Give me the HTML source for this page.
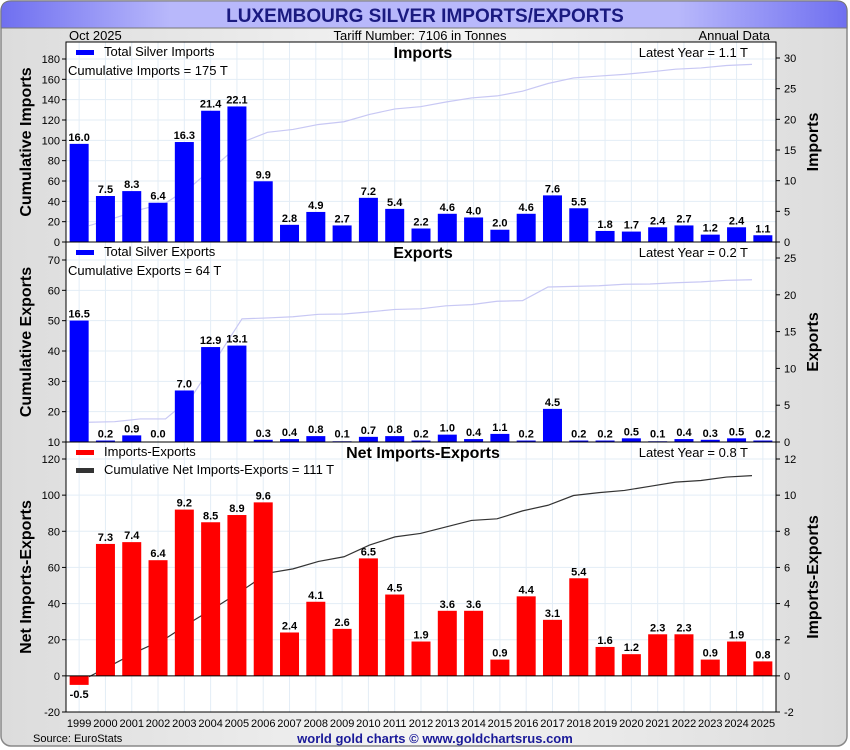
<!DOCTYPE html>
<html><head><meta charset="utf-8"><style>
body{margin:0;background:#fff;}
svg{display:block;font-family:"Liberation Sans",sans-serif;}
</style></head><body>
<svg id="chart" width="850" height="750">
<defs>
<linearGradient id="tg" x1="0" x2="1" y1="0" y2="0"><stop offset="0" stop-color="#6f6ff0"/><stop offset="0.2" stop-color="#b8b8fb"/><stop offset="0.8" stop-color="#b8b8fb"/><stop offset="1" stop-color="#6f6ff0"/></linearGradient>
<linearGradient id="bg" x1="0" x2="1"><stop offset="0" stop-color="#dcdcdc"/><stop offset="0.5" stop-color="#f4f4f4"/><stop offset="1" stop-color="#dcdcdc"/></linearGradient>
</defs>
<rect x="1" y="1" width="846" height="745" rx="10" fill="url(#bg)" stroke="#888" stroke-width="1.5"/>
<path d="M1 28 V11 Q1 1 11 1 H837 Q847 1 847 11 V28 Z" fill="url(#tg)" stroke="#777"/>
<text x="425" y="22" text-anchor="middle" font-size="19" font-weight="bold" fill="#1a1a80">LUXEMBOURG SILVER IMPORTS/EXPORTS</text>
<text x="69" y="40" font-size="13">Oct  2025</text>
<text x="420" y="40" font-size="13" text-anchor="middle">Tariff Number: 7106 in Tonnes</text>
<text x="770" y="40" font-size="13" text-anchor="end">Annual Data</text>
<text x="33" y="742" font-size="11">Source: EuroStats</text>
<text x="435" y="743" font-size="13" font-weight="bold" fill="#1a1a99" text-anchor="middle">world gold charts © www.goldchartsrus.com</text>
<g id="plots"></g>
</svg>
<script>
const years=["1999","2000","2001","2002","2003","2004","2005","2006","2007","2008","2009","2010","2011","2012","2013","2014","2015","2016","2017","2018","2019","2020","2021","2022","2023","2024","2025"];
const imports=[16.0,7.5,8.3,6.4,16.3,21.4,22.1,9.9,2.8,4.9,2.7,7.2,5.4,2.2,4.6,4.0,2.0,4.6,7.6,5.5,1.8,1.7,2.4,2.7,1.2,2.4,1.1];
const exportsV=[16.5,0.2,0.9,0.0,7.0,12.9,13.1,0.3,0.4,0.8,0.1,0.7,0.8,0.2,1.0,0.4,1.1,0.2,4.5,0.2,0.2,0.5,0.1,0.4,0.3,0.5,0.2];
const net=[-0.5,7.3,7.4,6.4,9.2,8.5,8.9,9.6,2.4,4.1,2.6,6.5,4.5,1.9,3.6,3.6,0.9,4.4,3.1,5.4,1.6,1.2,2.3,2.3,0.9,1.9,0.8];
const leftTicks1=[0,20,40,60,80,100,120,140,160,180];
const rightTicks1=[0,5,10,15,20,25,30];
const leftTicks2=[10,20,30,40,50,60,70];
const rightTicks2=[0,5,10,15,20,25];
const leftTicks3=[-20,0,20,40,60,80,100,120];
const rightTicks3=[-2,0,2,4,6,8,10,12];

const NS="http://www.w3.org/2000/svg";
const root=document.getElementById('plots');
const X0=66,X1=776,slot=(X1-X0)/years.length;
function xc(i){return X0+slot*(i+0.5);}
function xl(i){return 89+(752-89)*i/(years.length-1);}
function mk(tag,attrs,parent){const e=document.createElementNS(NS,tag);for(const k in attrs)e.setAttribute(k,attrs[k]);(parent||root).appendChild(e);return e;}
function cum(a){let s=0;return a.map(v=>s+=v);}

function panel(o){
  const g=mk('g',{});
  
  
  const yl=v=>o.bot-(v-o.lmin)*(o.bot-o.top0)/(o.lmax-o.lmin);
  const yr=v=>o.bot-(v-o.rmin)*(o.bot-o.rtop)/(o.rmax-o.rmin);
  mk('rect',{x:X0,y:o.top,width:X1-X0,height:o.bot-o.top,fill:'#fff'},g);
  years.forEach((y,i)=>{mk('line',{x1:xc(i),x2:xc(i),y1:o.top,y2:o.bot,stroke:'#e3edf6'},g);});
  o.lt.forEach(v=>{const y=yl(v);
    mk('line',{x1:X0,x2:X1,y1:y,y2:y,stroke:'#e3edf6'},g);
    mk('line',{x1:X0-4,x2:X0,y1:y,y2:y,stroke:'#000'},g);
    const t=mk('text',{x:X0-6,y:y+4,'font-size':11,'text-anchor':'end'},g);t.textContent=v;
    
    });
  o.rt.forEach(v=>{const y=yr(v);
    mk('line',{x1:X1,x2:X1+4,y1:y,y2:y,stroke:'#000'},g);
    const t=mk('text',{x:X1+8,y:y+4,'font-size':11},g);t.textContent=v;
    
    });
  // cumulative line
  const c=cum(o.vals);
  const pl=mk('polyline',{points:c.map((v,i)=>xl(i)+','+yl(v)).join(' '),fill:'none',stroke:o.lineColor,'stroke-width':1.2},g);
  
  
  const z=yr(0);
  o.vals.forEach((v,i)=>{const y=yr(v);
    const r=mk('rect',{x:xc(i)-9.5,y:Math.min(y,z),width:19,height:Math.max(Math.abs(z-y),v===0?0:1.5),fill:o.color},g);
    
    
    const t=mk('text',{x:xc(i),y:v<0?z+Math.abs(z-y)+13:Math.min(y,z-1.5)-3,'font-size':11,'font-weight':'bold','text-anchor':'middle'},g);
    t.textContent=v.toFixed(1);
    
    });
  if(o.zeroLine) mk('line',{x1:X0,x2:X1,y1:z,y2:z,stroke:'#000'},g);
  mk('rect',{x:X0,y:o.top,width:X1-X0,height:o.bot-o.top,fill:'none',stroke:'#000'},g);
  const tt=mk('text',{x:423,y:o.top+16,'font-size':16,'font-weight':'bold','text-anchor':'middle'},g);tt.textContent=o.title;
  
  
  const ly=mk('text',{x:748,y:o.top+15,'font-size':13,'text-anchor':'end'},g);ly.textContent='Latest Year = '+o.vals[o.vals.length-1].toFixed(1)+' T';
  
  
  o.legend.forEach((L,k)=>{const yy=o.top+10+k*18;
    mk('rect',{x:76,y:yy-2,width:18,height:5,fill:L.c},g);
    const t=mk('text',{x:104,y:yy+4,'font-size':13},g);t.textContent=L.t;
    
    });
  if(o.cumText){const t=mk('text',{x:68,y:o.top+33,'font-size':13},g);t.textContent=o.cumText+' = '+Math.round(c[c.length-1])+' T';
    
    }
  const a=mk('text',{transform:`translate(31,${(o.top+o.bot)/2}) rotate(-90)`,'font-size':16,'font-weight':'bold','text-anchor':'middle'},g);a.textContent=o.ylab;
  
  
  const b=mk('text',{transform:`translate(818,${(o.top+o.bot)/2}) rotate(-90)`,'font-size':16,'font-weight':'bold','text-anchor':'middle'},g);b.textContent=o.rlab;
  
  
}
panel({name:'imports',top:42,bot:242,top0:59,lmin:0,lmax:180,rtop:58,rmin:0,rmax:30,lt:leftTicks1,rt:rightTicks1,vals:imports,color:'#0000ff',lineColor:'#c8c8f4',title:'Imports',ylab:'Cumulative Imports',rlab:'Imports',legend:[{c:'#0000ff',t:'Total Silver Imports'}],cumText:'Cumulative Imports'});
panel({name:'exports',top:242,bot:442,top0:260,lmin:10,lmax:70,rtop:258,rmin:0,rmax:25,lt:leftTicks2,rt:rightTicks2,vals:exportsV,color:'#0000ff',lineColor:'#c8c8f4',title:'Exports',ylab:'Cumulative Exports',rlab:'Exports',legend:[{c:'#0000ff',t:'Total Silver Exports'}],cumText:'Cumulative Exports'});
panel({name:'net',top:442,bot:712,top0:459,lmin:-20,lmax:120,rtop:459,rmin:-2,rmax:12,lt:leftTicks3,rt:rightTicks3,vals:net,color:'#ff0000',lineColor:'#333',title:'Net Imports-Exports',ylab:'Net Imports-Exports',rlab:'Imports-Exports',zeroLine:true,legend:[{c:'#ff0000',t:'Imports-Exports'},{c:'#333',t:'Cumulative Net Imports-Exports = '+Math.round(cum(net)[net.length-1])+' T'}]});
years.forEach((y,i)=>{const t=mk('text',{x:xc(i),y:727,'font-size':11,'text-anchor':'middle'});t.textContent=y;
  
  });
</script>
</body></html>
